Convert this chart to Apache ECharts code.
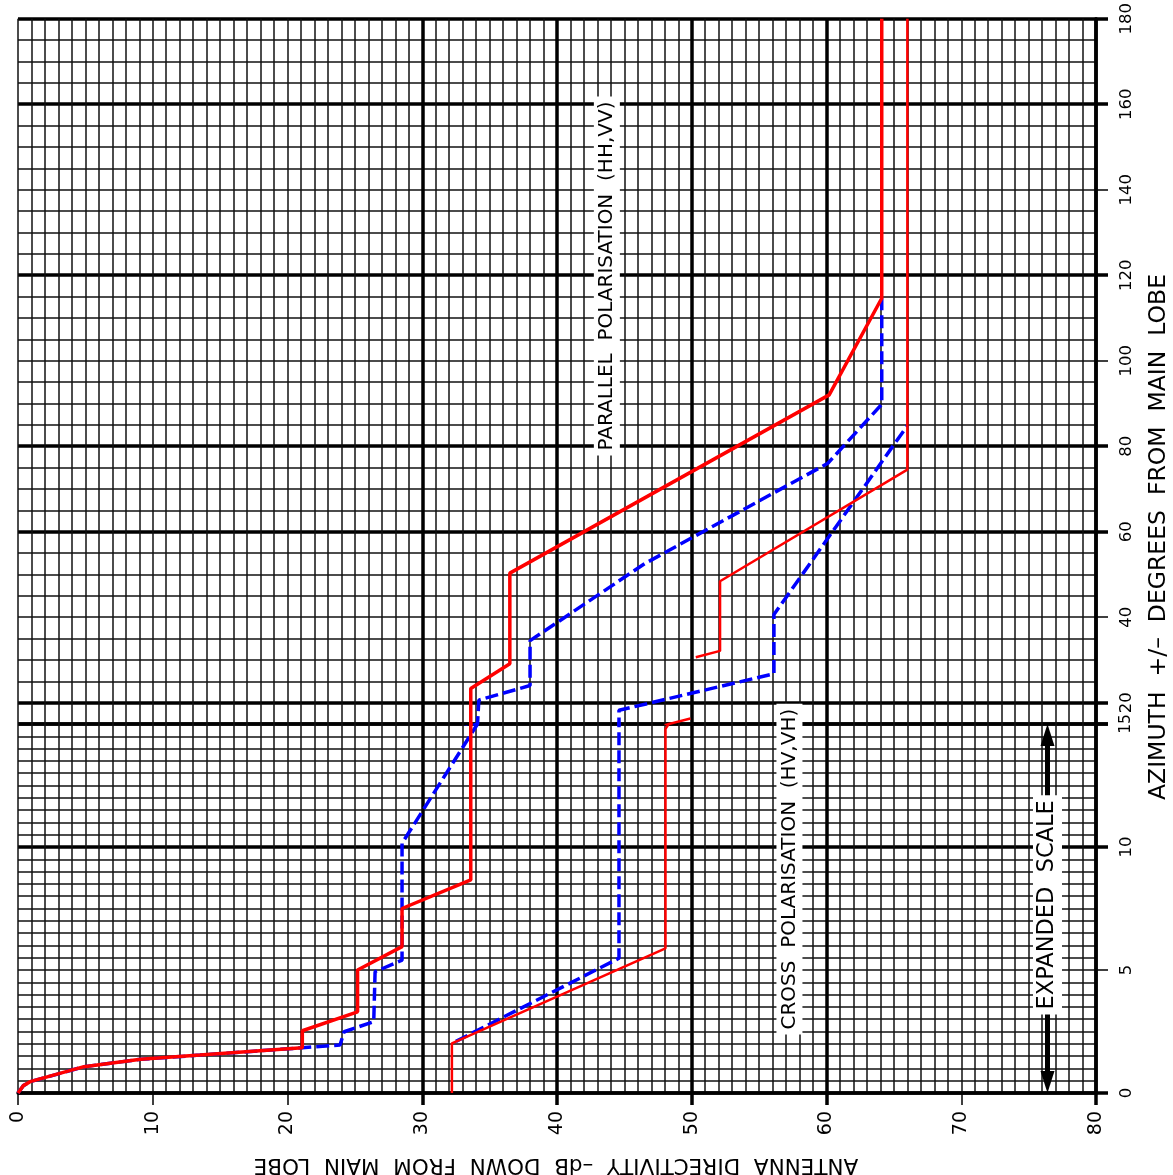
<!DOCTYPE html>
<html>
<head>
<meta charset="utf-8">
<script src="https://cdn.jsdelivr.net/npm/echarts@6/dist/echarts.min.js"></script>
<style>
html, body { margin: 0; padding: 0; background: #fff; }
#chart { width: 1173px; height: 1175px; }
</style>
</head>
<body>
<div id="chart"></div>
<script>
// [dB down from main lobe, azimuth degrees]
var parallelRed = [[0,0],[0.4,0.3],[0.9,0.46],[4.9,1.07],[9.1,1.37],[13.5,1.54],[21.1,1.84],[21.1,2.53],[25.2,3.3],[25.2,5.0],[28.5,5.95],[28.5,7.5],[33.6,8.66],[33.6,23.3],[36.5,29.1],[36.5,50.3],[60.2,92.0],[64.1,114.6],[64.1,180]];
var parallelBlue = [[0,0],[0.4,0.3],[0.9,0.46],[4.9,1.07],[9.1,1.37],[13.5,1.54],[21.1,1.84],[23.9,1.95],[24.2,2.49],[26.4,2.9],[26.5,4.93],[28.5,5.4],[28.5,10.15],[34.1,15.0],[34.2,20.6],[38.0,24.0],[38.0,34.5],[46.5,52.5],[60.1,76.0],[64.1,89.8],[64.1,114.6]];
var crossRed = [[32.2,0],[32.2,2.02],[48.05,5.88],[48.05,14.8],[49.9,16.3],null,[50.3,30.6],[52.1,32.1],[52.1,48.4],[66,74.5],[66,180]];
var crossBlue = [[32.5,2.1],[44.6,5.48],[44.6,18.2],[56.1,26.75],[56.1,40.6],[66,84.8]];

// axis ticks
var dbTicks = [0,10,20,30,40,50,60,70,80];
var dbHeavy = [30,40,50,60,80];
var azUpperTicks = [15,20,40,60,80,100,120,140,160,180];
var azUpperHeavy = [15,20,60,80,120,160,180];
var azLowerTicks = [0,5,10];
var azLowerHeavy = [0,10,15];
var azBreak = 15;

// annotations (data coords)
var expandedArrow = [[76.4,0.45],[76.4,14.55]];
var parallelLabelAt = [43.7,119.8];
var crossLabelAt = [57.25,9.1];
var expandedLabelAt = [76.4,7.65];

var FONT = 'DejaVu Sans';
var thin = { color: '#111', width: 1.5 };
var heavy = { color: '#000', width: 3.5 };
var tickFont = { color: '#000', fontFamily: FONT, fontSize: 16.5 };

var dom = document.getElementById('chart');
var myChart = echarts.init(dom, null, { renderer: 'canvas' });

function fix(d) {
    return d.map(function (p) { return p === null ? ['-', '-'] : p; });
}

function fineX(grid, interval) {
    return { type: 'value', gridIndex: grid, position: 'bottom', min: 0, max: 80, interval: interval,
        axisLine: { show: false, onZero: false }, axisTick: { show: false }, axisLabel: { show: false },
        splitLine: { show: true, lineStyle: thin } };
}
function fineY(grid, min, max, interval) {
    return { type: 'value', gridIndex: grid, position: 'right', min: min, max: max, interval: interval,
        axisLine: { show: false, onZero: false }, axisTick: { show: false }, axisLabel: { show: false },
        splitLine: { show: true, lineStyle: thin } };
}

var xAxes = [
    fineX(0, 1),
    { type: 'value', gridIndex: 0, position: 'bottom', min: 0, max: 80,
        axisLine: { show: false, onZero: false }, axisLabel: { show: false },
        axisTick: { show: false, customValues: dbHeavy },
        splitLine: { show: true, lineStyle: heavy } },
    fineX(1, 1),
    { type: 'value', gridIndex: 1, position: 'bottom', min: 0, max: 80,
        axisLine: { show: false, onZero: false }, axisLabel: { show: false },
        axisTick: { show: true, customValues: dbHeavy, length: 12, lineStyle: { color: '#000', width: 3.5 } },
        splitLine: { show: true, lineStyle: heavy } },
    { type: 'value', gridIndex: 1, position: 'bottom', min: 0, max: 80,
        axisLine: { show: true, onZero: false, lineStyle: { color: '#000', width: 3.5 } },
        axisTick: { show: true, customValues: dbTicks, length: 12, lineStyle: { color: '#000', width: 1.5 } },
        axisLabel: Object.assign({ show: true, customValues: dbTicks, rotate: 90, margin: 18,
            showMinLabel: true, showMaxLabel: true }, tickFont, { fontSize: 19 }),
        splitLine: { show: false } }
];

var yAxes = [
    fineY(0, 15, 180, 5),
    // heavy lines + the "15" label (own axis so it is not dropped next to "20")
    { type: 'value', gridIndex: 0, position: 'right', min: 15, max: 180,
        axisLine: { show: false, onZero: false },
        axisLabel: Object.assign({ show: true, customValues: [azBreak], rotate: 90, margin: 22,
            showMinLabel: true, showMaxLabel: true }, tickFont, { fontSize: 15.5 }),
        axisTick: { show: true, customValues: azUpperHeavy, length: 12, lineStyle: { color: '#000', width: 3.5 } },
        splitLine: { show: true, lineStyle: heavy } },
    { type: 'value', gridIndex: 0, position: 'right', min: 15, max: 180,
        axisLine: { show: true, onZero: false, lineStyle: { color: '#000', width: 3.5 } },
        axisTick: { show: true, customValues: azUpperTicks, length: 12, lineStyle: { color: '#000', width: 1.5 } },
        axisLabel: Object.assign({ show: true, rotate: 90, margin: 22,
            customValues: azUpperTicks.filter(function (v) { return v !== azBreak; }),
            showMinLabel: true, showMaxLabel: true }, tickFont),
        splitLine: { show: false } },
    fineY(1, 0, 15, 0.5),
    { type: 'value', gridIndex: 1, position: 'right', min: 0, max: 15,
        axisLine: { show: false, onZero: false }, axisLabel: { show: false },
        axisTick: { show: true, customValues: azLowerHeavy, length: 12, lineStyle: { color: '#000', width: 3.5 } },
        splitLine: { show: true, lineStyle: heavy } },
    { type: 'value', gridIndex: 1, position: 'right', min: 0, max: 15,
        axisLine: { show: true, onZero: false, lineStyle: { color: '#000', width: 3.5 } },
        axisTick: { show: true, customValues: azLowerTicks, length: 12, lineStyle: { color: '#000', width: 1.5 } },
        axisLabel: Object.assign({ show: true, customValues: azLowerTicks, rotate: 90, margin: 22,
            showMinLabel: true, showMaxLabel: true }, tickFont),
        splitLine: { show: false } }
];

// each curve is drawn in both panels, clipped to each panel's range
function curve(name, data, lineStyle, z) {
    var base = { type: 'line', name: name, data: fix(data), showSymbol: false, symbol: 'none',
        clip: true, connectNulls: false, lineStyle: lineStyle, z: z, silent: true };
    return [
        Object.assign({}, base, { xAxisIndex: 0, yAxisIndex: 0 }),
        Object.assign({}, base, { xAxisIndex: 2, yAxisIndex: 3 })
    ];
}

var series = [].concat(
    curve('Parallel (dashed)', parallelBlue, { color: '#0000ff', width: 3.5, type: [13, 5] }, 3),
    curve('Cross (dashed)', crossBlue, { color: '#0000ff', width: 3.5, type: [13, 5] }, 3),
    curve('Parallel', parallelRed, { color: '#ff0000', width: 3.5 }, 4),
    curve('Cross', crossRed, { color: '#ff0000', width: 2.5 }, 4)
);

series.push({
    type: 'line', name: 'Expanded scale', xAxisIndex: 2, yAxisIndex: 3, data: [],
    markLine: {
        silent: true, symbol: ['triangle', 'triangle'], symbolSize: [14, 22],
        label: { show: false },
        lineStyle: { color: '#000', width: 5, type: 'solid' },
        data: [[{ coord: expandedArrow[0] }, { coord: expandedArrow[1] }]]
    },
    z: 5
});

option = {
    animation: false,
    backgroundColor: '#fff',
    grid: [
        { left: 18, right: 77, top: 11, height: 713 },
        { left: 18, right: 77, top: 724, height: 369 }
    ],
    xAxis: xAxes,
    yAxis: yAxes,
    series: series
};
myChart.setOption(option);

function boxText(text, pt, size) {
    return {
        type: 'text', x: pt[0], y: pt[1], rotation: Math.PI / 2, z: 100,
        style: {
            text: text, fill: '#000', font: size + 'px ' + FONT,
            align: 'center', verticalAlign: 'middle',
            backgroundColor: '#fff', padding: [3, 5]
        }
    };
}

var pPar = myChart.convertToPixel({ gridIndex: 0 }, parallelLabelAt);
var pCross = myChart.convertToPixel({ gridIndex: 1 }, crossLabelAt);
var pExp = myChart.convertToPixel({ gridIndex: 1 }, expandedLabelAt);

myChart.setOption({
    graphic: [
        boxText('PARALLEL  POLARISATION  (HH,VV)', pPar, 20),
        boxText('CROSS  POLARISATION  (HV,VH)', pCross, 20),
        boxText('EXPANDED  SCALE', pExp, 22.5),
        {
            type: 'text', x: 1159, y: 537, rotation: Math.PI / 2,
            style: { text: 'AZIMUTH  +/–  DEGREES  FROM  MAIN  LOBE', fill: '#000',
                font: '23.5px ' + FONT, align: 'center', verticalAlign: 'middle' }
        },
        {
            type: 'text', x: 556, y: 1165, rotation: Math.PI,
            style: { text: 'ANTENNA  DIRECTIVITY  –dB  DOWN  FROM  MAIN  LOBE', fill: '#000',
                font: '21.5px ' + FONT, align: 'center', verticalAlign: 'middle' }
        }
    ]
});

window.addEventListener('resize', myChart.resize);
</script>
</body>
</html>
